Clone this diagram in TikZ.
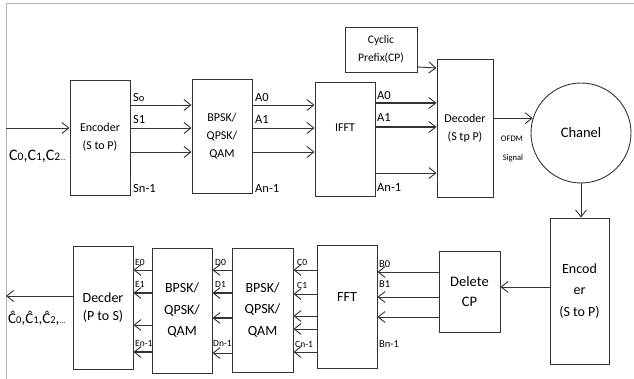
\documentclass[tikz,border=0pt]{standalone}
\usepackage{fontspec}
\setmainfont{Carlito}
\usetikzlibrary{arrows.meta}
\definecolor{ln}{HTML}{333333}
\tikzset{
  box/.style={draw=ln, line width=0.9pt, rectangle, inner sep=0pt, align=center, text=black},
  top/.style={font=\fontsize{12}{18}\selectfont},
  bot/.style={font=\fontsize{14}{21.5}\selectfont},
  arr/.style={draw=ln, line width=0.9pt, -{Straight Barb[length=7pt,width=11pt,line width=0.9pt]}},
  tarr/.style={arr, line width=1.8pt},
  lab/.style={anchor=west, inner sep=0pt, font=\fontsize{12.5}{13}\selectfont},
  slab/.style={anchor=west, inner sep=0pt, font=\fontsize{9.5}{10}\selectfont},
}
\begin{document}
\begin{tikzpicture}[x=1pt,y=-1pt]
\useasboundingbox (0,0) rectangle (634,379);
\draw[gray!60, line width=1pt] (6,379) -- (6,4) -- (634,4);
% top row boxes
\node[box,top,minimum width=60pt,minimum height=115pt] (enc) at (100,137.5) {Encoder\\(S to P)};
\node[box,top,minimum width=60pt,minimum height=114pt] (mod1) at (222,136) {\fontsize{12}{19}\selectfont BPSK/\\QPSK/\\QAM};
\node[box,top,minimum width=60pt,minimum height=114pt] (ifft) at (345,139) {};
\node[top,inner sep=0pt] (ifftT) at (345,128) {IFFT};
\node[box,font=\fontsize{11.5}{18}\selectfont,minimum width=72pt,minimum height=45pt] (cp) at (381,49.5) {Cyclic\\Prefix(CP)};
\node[box,top,minimum width=56pt,minimum height=138pt] (dec) at (465,128) {Decoder\\(S tp P)};
\node[draw=ln,line width=0.9pt,circle,minimum size=100pt,inner sep=0pt,font=\fontsize{14.5}{16}\selectfont] (chan) at (581,133) {Chanel};
% bottom row boxes
\node[box,bot,minimum width=59pt,minimum height=146pt] (enc2) at (579.5,291) {Encod\\er\\(S to P)};
\node[box,font=\fontsize{14.5}{20}\selectfont,minimum width=61pt,minimum height=81pt] (del) at (469.5,291.5) {Delete\\CP};
\node[box,bot,minimum width=60pt,minimum height=123pt] (fft) at (347,306.5) {};
\node[bot,inner sep=0pt] (fftT) at (347,297) {FFT};
\node[box,bot,minimum width=61pt,minimum height=124pt] (mod3) at (262.5,310) {BPSK/\\QPSK/\\QAM};
\node[box,bot,minimum width=60pt,minimum height=125pt] (mod2) at (182,310.5) {BPSK/\\QPSK/\\QAM};
\node[box,font=\fontsize{14}{18}\selectfont,minimum width=60pt,minimum height=123pt] (decder) at (103,307.5) {Decder\\(P to S)};
% input
\coordinate (in) at (6,128);
\draw[arr] (in) -- (enc.west |- in);
\node[inner sep=0pt,anchor=west,font=\fontsize{16}{18}\selectfont] (inlab) at (9,156) {C{\fontsize{11.5}{12}\selectfont 0},C{\fontsize{11.5}{12}\selectfont 1},C{\fontsize{11.5}{12}\selectfont 2}{\fontsize{7}{7}\selectfont ...}};
% enc -> mod1
\draw[arr] (enc.east |- 0,105) -- (mod1.west |- 0,105);
\draw[arr] (enc.east |- 0,128) -- (mod1.west |- 0,128);
\draw[arr] (enc.east |- 0,152) -- (mod1.west |- 0,152);
\node[lab] (s0) at (133,97) {S{\fontsize{10.5}{11}\selectfont o}};
\node[lab] (s1) at (133,119) {S1};
\node[lab] (sn) at (133,188) {Sn-1};
% mod1 -> ifft
\draw[arr] (mod1.east |- 0,105) -- (ifft.west |- 0,105);
\draw[arr] (mod1.east |- 0,128) -- (ifft.west |- 0,128);
\draw[arr] (mod1.east |- 0,152) -- (ifft.west |- 0,152);
\node[lab] (a0) at (255,97) {A0};
\node[lab] (a1) at (255,119) {A1};
\node[lab] (an) at (255,188) {An-1};
% ifft -> dec
\draw[tarr] (ifft.east |- 0,103) -- (dec.west |- 0,103);
\draw[tarr] (ifft.east |- 0,127) -- (dec.west |- 0,127);
\draw[arr] (ifft.east |- 0,173) -- (dec.west |- 0,173);
\node[lab] (b0) at (377,95) {A0};
\node[lab] (b1) at (377,117) {A1};
\node[lab] (bn) at (377,187) {An-1};
% cp -> dec
\draw[arr] (cp.east |- 0,67) -- (dec.west |- 0,68);
% dec -> chan
\draw[arr] (dec.east |- chan.163.7) -- (chan.163.7);
\node[inner sep=0pt,font=\fontsize{8.5}{9}\selectfont] (ofdm) at (512,139) {OFDM};
\node[inner sep=0pt,font=\fontsize{8.5}{9}\selectfont] (sig) at (513,158) {Signal};
% chan -> enc2
\draw[arr] (chan.south) -- (chan.south |- enc2.north);
% enc2 -> del
\draw[arr] (enc2.west |- 0,287) -- (del.east |- 0,287);
% del -> fft
\draw[arr] (del.west |- 0,272) -- (fft.east |- 0,272);
\draw[arr] (del.west |- 0,297) -- (fft.east |- 0,297);
\draw[arr] (del.west |- 0,317) -- (fft.east |- 0,317);
\node[lab,font=\fontsize{10.5}{11}\selectfont] (lb0) at (379,264) {B0};
\node[lab,font=\fontsize{10.5}{11}\selectfont] (lb1) at (379,284) {B1};
\node[lab,font=\fontsize{10.5}{11}\selectfont] (lbn) at (379,344) {Bn-1};
% fft -> mod3
\draw[arr] (fft.west |- 0,270) -- (mod3.east |- 0,270);
\draw[arr] (fft.west |- 0,294) -- (mod3.east |- 0,294);
\draw[arr] (fft.west |- 0,316) -- (mod3.east |- 0,316);
\draw[arr] (fft.west |- 0,329) -- (mod3.east |- 0,329);
\draw[arr] (fft.west |- 0,352) -- (mod3.east |- 0,352);
\node[slab] (lc0) at (297,262) {C0};
\node[slab] (lc1) at (297,285) {C1};
\node[slab] (lcn) at (295,344) {Cn-1};
% mod3 -> mod2
\draw[arr] (mod3.west |- 0,270) -- (mod2.east |- 0,270);
\draw[tarr] (mod3.west |- 0,293) -- (mod2.east |- 0,293);
\draw[tarr] (mod3.west |- 0,318) -- (mod2.east |- 0,318);
\draw[arr] (mod3.west |- 0,353) -- (mod2.east |- 0,353);
\node[slab] (ld0) at (215,262) {D0};
\node[slab] (ld1) at (215,284) {D1};
\node[slab] (ldn) at (213,343) {Dn-1};
% mod2 -> decder
\draw[arr] (mod2.west |- 0,270) -- (decder.east |- 0,270);
\draw[tarr] (mod2.west |- 0,293) -- (decder.east |- 0,293);
\draw[arr] (mod2.west |- 0,325) -- (decder.east |- 0,325);
\draw[tarr] (mod2.west |- 0,352) -- (decder.east |- 0,352);
\node[slab] (le0) at (135,262) {E0};
\node[slab] (le1) at (135,284) {E1};
\node[slab] (len) at (135,343) {En-1};
% output
\coordinate (out) at (6,296);
\draw[arr] (decder.west |- out) -- (out);
\node[inner sep=0pt,anchor=west,font=\fontsize{15}{17}\selectfont] (outlab) at (8,318) {Ĉ{\fontsize{10.5}{11}\selectfont 0},Ĉ{\fontsize{10.5}{11}\selectfont 1},Ĉ{\fontsize{10.5}{11}\selectfont 2},{\fontsize{8}{8}\selectfont ...}};
\end{tikzpicture}
\end{document}
